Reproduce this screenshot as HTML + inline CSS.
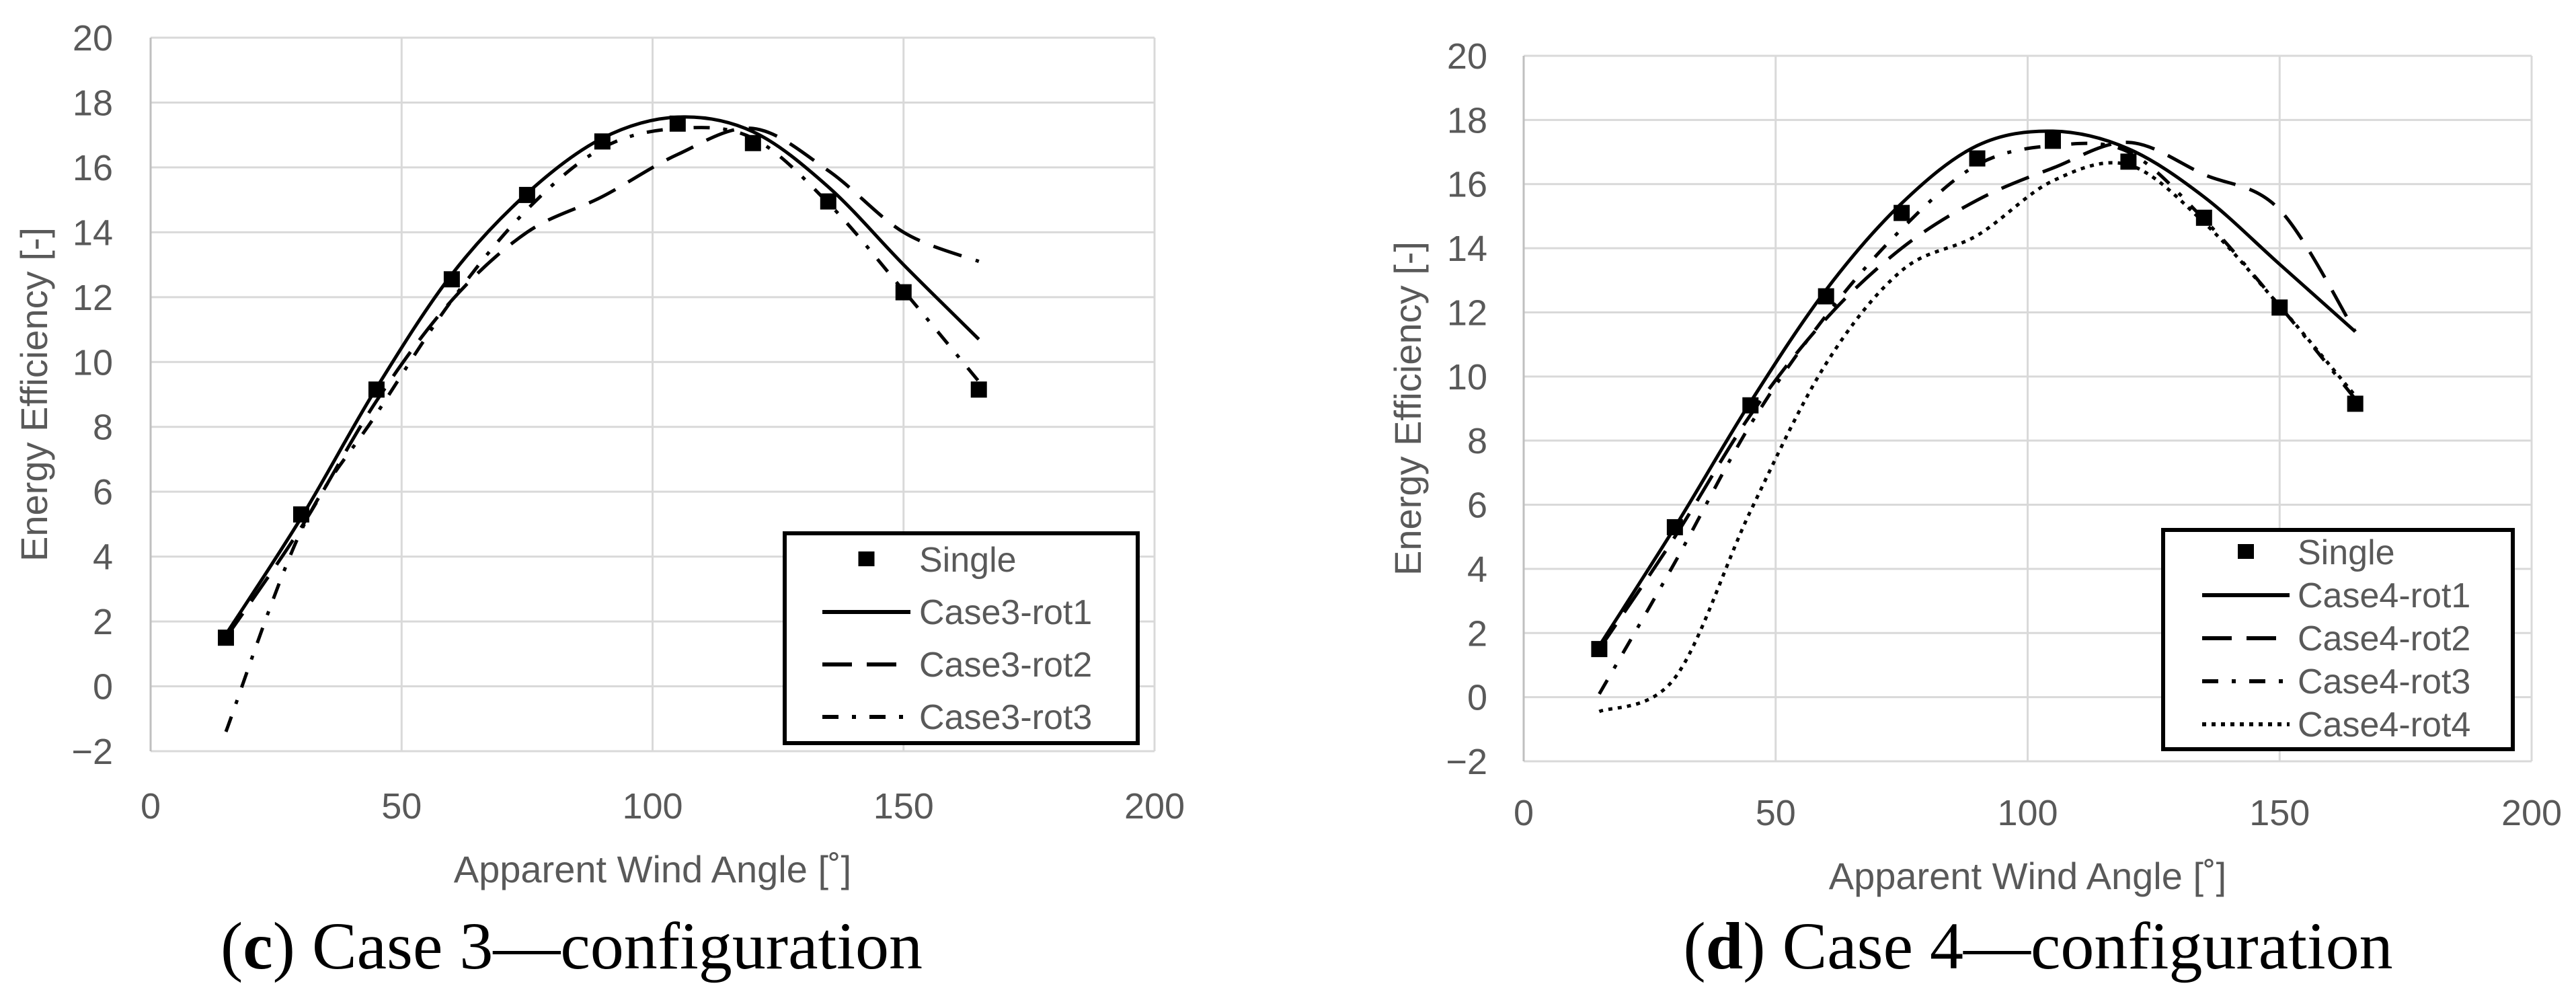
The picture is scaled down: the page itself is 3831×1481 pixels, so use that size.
<!DOCTYPE html>
<html><head><meta charset="utf-8"><style>
html,body{margin:0;padding:0;background:#fff;}
svg{display:block;}
text{font-family:"Liberation Sans Narrow","Liberation Sans",sans-serif;fill:#595959;}
.cap{font-family:"Liberation Serif",serif;fill:#000;}
</style></head><body>
<svg id="fig" width="3831" height="1481" viewBox="0 0 3831 1481" xmlns="http://www.w3.org/2000/svg"></svg>
<script>
const xCats = [15,30,45,60,75,90,105,120,135,150,165];
const xTicks = [0,50,100,150,200];
const yTicks = [-2,0,2,4,6,8,10,12,14,16,18,20];
// Case 3
const c3Single = [1.5,5.3,9.15,12.55,15.15,16.8,17.35,16.75,14.95,12.15,9.15];
const c3Rot1 = [1.6,5.2,9.2,12.7,15.2,16.9,17.55,17.1,15.4,13.0,10.7];
const c3Rot2 = [1.5,4.9,8.8,11.9,14.0,15.1,16.4,17.2,15.9,14.0,13.1];
const c3Rot3 = [-1.4,4.8,8.4,11.9,14.7,16.6,17.2,16.9,14.9,12.2,9.4];
// Case 4
const c4Single = [1.5,5.3,9.1,12.5,15.1,16.8,17.35,16.7,14.95,12.15,9.15];
const c4Rot1 = [1.6,5.3,9.2,12.7,15.4,17.2,17.65,17.1,15.6,13.5,11.4];
const c4Rot2 = [1.5,5.0,8.8,11.8,14.0,15.5,16.5,17.3,16.3,15.2,11.4];
const c4Rot3 = [0.1,4.2,8.5,11.9,14.6,16.6,17.2,17.0,14.9,12.2,9.3];
const c4Rot4 = [-0.45,0.6,5.8,10.4,13.3,14.4,16.1,16.6,14.8,12.2,9.4];

const NS="http://www.w3.org/2000/svg";
const svg=document.getElementById('fig');
function mk(tag,attrs,parent){const e=document.createElementNS(NS,tag);for(const k in attrs)e.setAttribute(k,attrs[k]);(parent||svg).appendChild(e);return e;}
const DASH={solid:null,dash:"44 22",dashdot:"24 20 6 20",dot:"6 8"};

function smoothPath(pts){
  let d="M"+pts[0][0]+","+pts[0][1];
  for(let i=0;i<pts.length-1;i++){
    const p0=pts[Math.max(0,i-1)],p1=pts[i],p2=pts[i+1],p3=pts[Math.min(pts.length-1,i+2)];
    const c1x=p1[0]+(p2[0]-p0[0])/6,c1y=p1[1]+(p2[1]-p0[1])/6;
    const c2x=p2[0]-(p3[0]-p1[0])/6,c2y=p2[1]-(p3[1]-p1[1])/6;
    d+=" C"+c1x+","+c1y+" "+c2x+","+c2y+" "+p2[0]+","+p2[1];
  }
  return d;
}

function chart(cfg){
  const g=mk('g',{});
  
  
  const X=v=>cfg.L+(v-0)/200*(cfg.R-cfg.L);
  const Y=v=>cfg.B-(v+2)/22*(cfg.B-cfg.T);
  yTicks.forEach(t=>{
    const l=mk('line',{x1:cfg.L,x2:cfg.R,y1:Y(t),y2:Y(t),stroke:'#d9d9d9','stroke-width':3},g);
    
    
    const tx=mk('text',{x:cfg.ytx,y:Y(t)+19,'text-anchor':'end','font-size':54},g);
    tx.textContent=(t<0?'\u2212'+(-t):t);
    
    
  });
  xTicks.forEach(t=>{
    const l=mk('line',{x1:X(t),x2:X(t),y1:cfg.T,y2:cfg.B,stroke:t===0?'#bfbfbf':'#d9d9d9','stroke-width':3},g);
    
    
    const tx=mk('text',{x:X(t),y:cfg.xty,'text-anchor':'middle','font-size':54},g);
    tx.textContent=t;
    
    
  });
  const xt=mk('text',{x:(cfg.L+cfg.R)/2,y:cfg.xty+95,'text-anchor':'middle','font-size':56},g);
  xt.textContent='Apparent Wind Angle [˚]';
  
  
  const yt=mk('text',{x:0,y:0,'text-anchor':'middle','font-size':56,transform:`translate(${cfg.yTitleX},${(cfg.T+cfg.B)/2}) rotate(-90)`},g);
  yt.textContent='Energy Efficiency [-]';
  
  
  cfg.series.forEach(s=>{
    const pts=xCats.map((x,i)=>[X(x),Y(s.vals[i])]);
    const p=mk('path',{d:smoothPath(pts),fill:'none',stroke:'#000','stroke-width':5},g);
    if(DASH[s.style])p.setAttribute('stroke-dasharray',DASH[s.style]);
    
    
  });
  cfg.single.forEach((v,i)=>{
    const r=mk('rect',{x:X(xCats[i])-12,y:Y(v)-12,width:24,height:24,fill:'#000'},g);
    
    
  });
  const lg=mk('g',{},g);
  
  
  const lb=cfg.legend;
  mk('rect',{x:lb.x,y:lb.y,width:lb.w,height:lb.h,fill:'#fff',stroke:'#000','stroke-width':6},lg);
  const entries=[{label:'Single',style:'marker'}].concat(cfg.series);
  entries.forEach((e,i)=>{
    const cy=lb.y0+i*lb.dy;
    if(e.style==='marker'){
      const r=mk('rect',{x:(lb.sx1+lb.sx2)/2-12,y:cy-12,width:24,height:22,fill:'#000'},lg);
      
      
    }else{
      const l=mk('line',{x1:lb.sx1,x2:lb.sx2,y1:cy,y2:cy,stroke:'#000','stroke-width':6},lg);
      if(DASH[e.style])l.setAttribute('stroke-dasharray',DASH[e.style]);
      
      
    }
    const t=mk('text',{x:lb.tx,y:cy+18,'font-size':52},lg);
    t.textContent=e.label;
    
    
  });
  const c=mk('text',{x:cfg.capX,y:1440,'text-anchor':'middle','font-size':100,class:'cap'},g);
  c.innerHTML='(<tspan font-weight="bold">'+cfg.capLetter+'</tspan>) '+cfg.capText;
  
  
}

chart({name:'case3-chart',L:224,R:1717,T:56,B:1117,ytx:168,xty:1217,yTitleX:70,
  single:c3Single,
  series:[{label:'Case3-rot1',vals:c3Rot1,style:'solid'},{label:'Case3-rot2',vals:c3Rot2,style:'dash'},{label:'Case3-rot3',vals:c3Rot3,style:'dashdot'}],
  legend:{x:1167,y:793,w:525,h:312,y0:832,dy:78,sx1:1223,sx2:1354,tx:1367},
  capX:850,capLetter:'c',capText:'Case 3\u2014configuration'});
chart({name:'case4-chart',L:2266,R:3765,T:83,B:1132,ytx:2212,xty:1227,yTitleX:2113,
  single:c4Single,
  series:[{label:'Case4-rot1',vals:c4Rot1,style:'solid'},{label:'Case4-rot2',vals:c4Rot2,style:'dash'},{label:'Case4-rot3',vals:c4Rot3,style:'dashdot'},{label:'Case4-rot4',vals:c4Rot4,style:'dot'}],
  legend:{x:3217,y:788,w:520,h:326,y0:821,dy:64,sx1:3275,sx2:3405,tx:3417},
  capX:3031,capLetter:'d',capText:'Case 4\u2014configuration'});
</script>
</body></html>
